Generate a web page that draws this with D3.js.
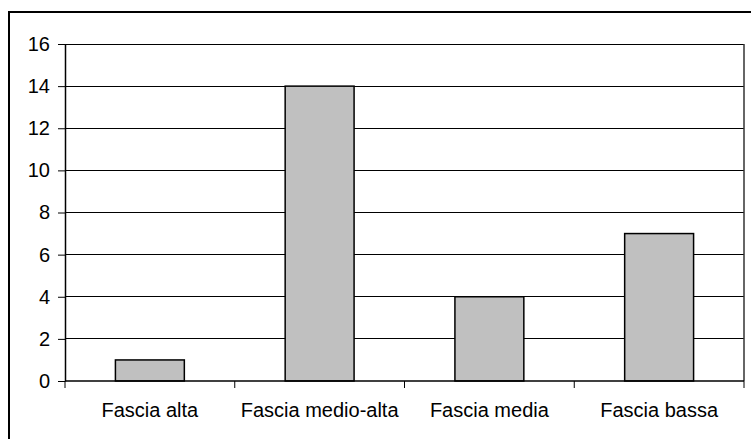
<!DOCTYPE html>
<html>
<head>
<meta charset="utf-8">
<script src="https://cdn.jsdelivr.net/npm/d3@7"></script>
<style>
  body { margin: 0; background: #fff; }
  svg { display: block; }
</style>
</head>
<body>
<div id="chart"></div>
<script>
const categories = ['Fascia alta', 'Fascia medio-alta', 'Fascia media', 'Fascia bassa'];
const values = [1, 14, 4, 7];
const yTicks = [0, 2, 4, 6, 8, 10, 12, 14, 16];

const outerWidth = 751, outerHeight = 439;
const margin = {top: 44, right: 7, bottom: 58, left: 65};
const width = outerWidth - margin.left - margin.right;
const height = outerHeight - margin.top - margin.bottom;

const svg = d3.select('#chart').append('svg')
    .attr('width', outerWidth)
    .attr('height', outerHeight);

// chart border
svg.append('rect')
    .attr('x', 9).attr('y', 12)
    .attr('width', 760).attr('height', 460)
    .attr('fill', 'none')
    .attr('stroke', '#000')
    .attr('stroke-width', 2);

const g = svg.append('g')
    .attr('transform', `translate(${margin.left}, ${margin.top})`);

const x = d3.scaleBand().domain(categories).range([0, width])
    .paddingInner(0.594).paddingOuter(0.297);
const y = d3.scaleLinear().domain([0, 16]).range([height, 0]);

// gridlines
g.append('g')
    .selectAll('line')
    .data(yTicks.filter(d => d > 0))
    .join('line')
    .attr('x1', 0).attr('x2', width)
    .attr('y1', d => y(d)).attr('y2', d => y(d))
    .attr('stroke', '#000')
    .attr('stroke-width', 1)
    .attr('shape-rendering', 'crispEdges');

// plot area right border
g.append('line')
    .attr('x1', width).attr('x2', width)
    .attr('y1', 0).attr('y2', height)
    .attr('stroke', '#333')
    .attr('stroke-width', 1.5);

// bars
g.selectAll('.bar')
    .data(values)
    .join('rect')
    .attr('class', 'bar')
    .attr('x', (d, i) => x(categories[i]))
    .attr('y', d => y(d))
    .attr('width', x.bandwidth())
    .attr('height', d => height - y(d))
    .attr('fill', '#c0c0c0')
    .attr('stroke', '#000')
    .attr('stroke-width', 1.5);

// y axis
const yAxis = g.append('g')
    .call(d3.axisLeft(y).tickValues(yTicks).tickSize(7).tickPadding(8).tickSizeOuter(0));
yAxis.select('.domain').attr('stroke', '#000').attr('stroke-width', 1.5);
yAxis.selectAll('.tick line').attr('stroke', '#000');
yAxis.selectAll('text')
    .attr('fill', '#000')
    .style('font-family', 'Arial, "Liberation Sans", sans-serif')
    .style('font-size', '20px');

// x axis: category ticks at band boundaries
const xAxis = g.append('g').attr('transform', `translate(0, ${height})`);
xAxis.append('line')
    .attr('x1', 0).attr('x2', width)
    .attr('stroke', '#000').attr('stroke-width', 1.5);
const step = x.step();
xAxis.selectAll('.ctick')
    .data(d3.range(categories.length + 1))
    .join('line')
    .attr('class', 'ctick')
    .attr('x1', i => i * step).attr('x2', i => i * step)
    .attr('y1', 0).attr('y2', 7)
    .attr('stroke', '#000');
xAxis.selectAll('.clabel')
    .data(categories)
    .join('text')
    .attr('class', 'clabel')
    .attr('x', d => x(d) + x.bandwidth() / 2)
    .attr('y', 36)
    .attr('text-anchor', 'middle')
    .attr('fill', '#000')
    .style('font-family', 'Arial, "Liberation Sans", sans-serif')
    .style('font-size', '20px')
    .text(d => d);
</script>
</body>
</html>
